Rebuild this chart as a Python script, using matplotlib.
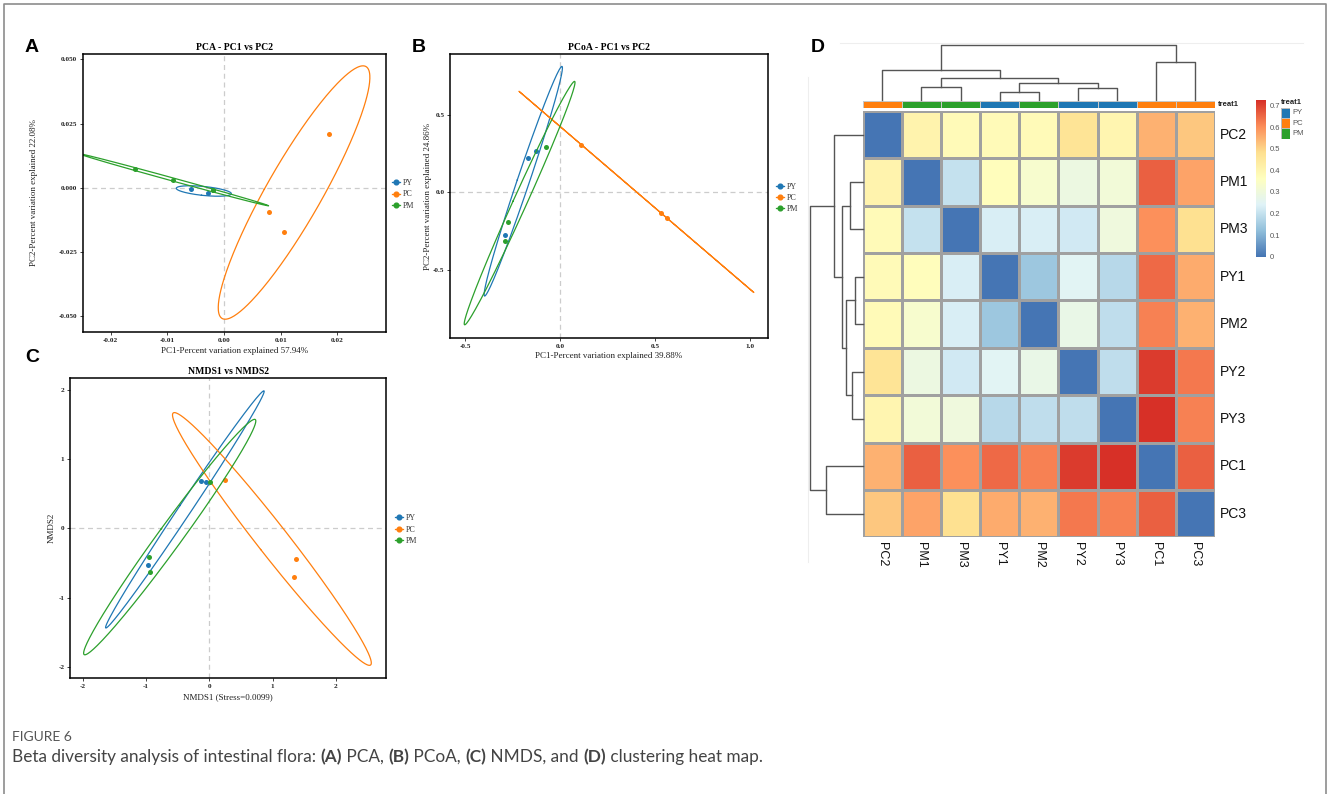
import numpy as np
import matplotlib
matplotlib.use('Agg')
import matplotlib.pyplot as plt
from matplotlib.lines import Line2D
from matplotlib.colors import LinearSegmentedColormap, Normalize
from matplotlib.ticker import FormatStrFormatter

plt.rcParams['axes.unicode_minus'] = False

# ---- data ----
groups = ['PY', 'PC', 'PM']
group_colors = {'PY': '#1f77b4', 'PC': '#ff7f0e', 'PM': '#2ca02c'}

# (A) PCA
pca_pc1 = {'PY': [-0.0058, -0.0029, -0.0020],
           'PC': [0.0185, 0.0080, 0.0106],
           'PM': [-0.0157, -0.0090, -0.0020]}
pca_pc2 = {'PY': [-0.0006, -0.0022, -0.0010],
           'PC': [0.0210, -0.0095, -0.0171],
           'PM': [0.0074, 0.0029, -0.0009]}

# (B) PCoA
pcoa_pc1 = {'PY': [-0.167, -0.127, -0.289],
            'PC': [0.111, 0.532, 0.565],
            'PM': [-0.076, -0.276, -0.289]}
pcoa_pc2 = {'PY': [0.224, 0.269, -0.277],
            'PC': [0.309, -0.133, -0.167],
            'PM': [0.295, -0.191, -0.312]}

# (C) NMDS
nmds1 = {'PY': [-0.131, -0.052, -0.975],
         'PC': [0.248, 1.372, 1.345],
         'PM': [0.016, -0.949, -0.943]}
nmds2 = {'PY': [0.688, 0.664, -0.534],
         'PC': [0.693, -0.447, -0.707],
         'PM': [0.664, -0.408, -0.635]}

# (D) distance heat map, samples in clustered order
samples = ['PC2', 'PM1', 'PM3', 'PY1', 'PM2', 'PY2', 'PY3', 'PC1', 'PC3']
sample_group = ['PC', 'PM', 'PM', 'PY', 'PM', 'PY', 'PY', 'PC', 'PC']
dist = [
    [0.00, 0.41, 0.38, 0.38, 0.38, 0.47, 0.40, 0.55, 0.52],
    [0.41, 0.00, 0.20, 0.37, 0.33, 0.29, 0.31, 0.66, 0.57],
    [0.38, 0.20, 0.00, 0.23, 0.23, 0.22, 0.30, 0.60, 0.48],
    [0.38, 0.37, 0.23, 0.00, 0.14, 0.25, 0.18, 0.65, 0.56],
    [0.38, 0.33, 0.23, 0.14, 0.00, 0.28, 0.19, 0.62, 0.55],
    [0.47, 0.29, 0.22, 0.25, 0.28, 0.00, 0.19, 0.71, 0.63],
    [0.40, 0.31, 0.30, 0.18, 0.19, 0.19, 0.00, 0.725, 0.62],
    [0.55, 0.66, 0.60, 0.65, 0.62, 0.71, 0.725, 0.00, 0.66],
    [0.52, 0.57, 0.48, 0.56, 0.55, 0.63, 0.62, 0.66, 0.00],
]
# dendrogram merges: (left, right, height); ints refer to earlier merges
merges = [
    ('PM1', 'PM3', 0.24),
    ('PY1', 'PM2', 0.15),
    ('PY2', 'PY3', 0.21),
    (1, 2, 0.31),
    (0, 3, 0.395),
    ('PC2', 4, 0.55),
    ('PC1', 'PC3', 0.69),
    (5, 6, 1.0),
]
cb_ticks = [0, 0.1, 0.2, 0.3, 0.4, 0.5, 0.6, 0.7]

W, H = 1328, 794
fig = plt.figure(figsize=(W / 100, H / 100), dpi=100)
SERIF = 'Liberation Serif'
SANS = 'Liberation Sans'


def px_axes(l, t, r, b):
    return fig.add_axes([l / W, 1 - b / H, (r - l) / W, (b - t) / H])


def px_text(x, y, s, **kw):
    return fig.text(x / W, 1 - y / H, s, **kw)


def conf_ellipse(xs, ys, level=0.95, n=300):
    pts = np.column_stack([xs, ys])
    mu = pts.mean(axis=0)
    vals, vecs = np.linalg.eigh(np.cov(pts.T))
    vals = np.clip(vals, 0, None)
    r = np.sqrt(-2 * np.log(1 - level))
    t = np.linspace(0, 2 * np.pi, n)
    e = (vecs * np.sqrt(vals)) @ np.vstack([np.cos(t), np.sin(t)]) * r
    return mu[0] + e[0], mu[1] + e[1]


def ord_panel(box, xs, ys, xlim, ylim, xticks, yticks, xfmt, yfmt,
              title, xlabel, ylabel, ylab_x, xlab_y, leg_xy):
    ax = px_axes(*box)
    ax.axhline(0, color='#cccccc', ls=(0, (4, 3)), lw=0.9, zorder=0)
    ax.axvline(0, color='#cccccc', ls=(0, (4, 3)), lw=0.9, zorder=0)
    for g in groups:
        ex, ey = conf_ellipse(xs[g], ys[g])
        ax.plot(ex, ey, color=group_colors[g], lw=0.9)
        ax.plot(xs[g], ys[g], 'o', color=group_colors[g], ms=3.6, mec='none')
    ax.set_xlim(*xlim)
    ax.set_ylim(*ylim)
    ax.set_xticks(xticks)
    ax.set_yticks(yticks)
    ax.xaxis.set_major_formatter(FormatStrFormatter(xfmt))
    ax.yaxis.set_major_formatter(FormatStrFormatter(yfmt))
    ax.tick_params(length=2.5, width=0.6, pad=1.5, labelsize=5.2, colors='#222222')
    for lbl in ax.get_xticklabels() + ax.get_yticklabels():
        lbl.set_fontweight('bold')
        lbl.set_family(SERIF)
    for sp in ax.spines.values():
        sp.set_linewidth(1.1)
    ax.set_title(title, fontsize=7, fontweight='bold', family=SERIF, pad=3)
    ax.set_xlabel(xlabel, fontsize=6.5, family=SERIF, color='#222222')
    ax.set_ylabel(ylabel, fontsize=6.5, family=SERIF, color='#222222')
    ax.xaxis.set_label_coords(0.5, xlab_y)
    ax.yaxis.set_label_coords(ylab_x, 0.5)
    handles = [Line2D([0], [0], color=group_colors[g], marker='o', ms=3.4, lw=0.9)
               for g in groups]
    fig.legend(handles, groups, loc='center left',
               bbox_to_anchor=(leg_xy[0] / W, 1 - leg_xy[1] / H),
               frameon=False, handlelength=1.0, handletextpad=0.4,
               labelspacing=0.4, borderpad=0, borderaxespad=0,
               prop={'family': SERIF, 'size': 5.8}, labelcolor='#333333')
    return ax


ord_panel((83, 54, 386, 332), pca_pc1, pca_pc2,
          (-0.0249, 0.0286), (-0.0562, 0.0521),
          [-0.02, -0.01, 0.0, 0.01, 0.02], [-0.05, -0.025, 0.0, 0.025, 0.05],
          '%.2f', '%.3f', 'PCA - PC1 vs PC2',
          'PC1-Percent variation explained 57.94%',
          'PC2-Percent variation explained 22.08%', -0.148, -0.054, (392, 194.5))

ord_panel((450, 54, 768, 338), pcoa_pc1, pcoa_pc2,
          (-0.581, 1.097), (-0.941, 0.894),
          [-0.5, 0.0, 0.5, 1.0], [-0.5, 0.0, 0.5],
          '%.1f', '%.1f', 'PCoA - PC1 vs PC2',
          'PC1-Percent variation explained 39.88%',
          'PC2-Percent variation explained 24.86%', -0.058, -0.05, (776, 198))

ord_panel((70, 378, 386, 678), nmds1, nmds2,
          (-2.2, 2.79), (-2.159, 2.168),
          [-2, -1, 0, 1, 2], [-2, -1, 0, 1, 2],
          '%d', '%d', 'NMDS1 vs NMDS2',
          'NMDS1 (Stress=0.0099)', 'NMDS2', -0.045, -0.052, (395, 529.5))

for letter, (x, y) in zip('ABCD', [(31.5, 48), (418.5, 48), (32, 357), (818, 48)]):
    px_text(x, y, letter, fontsize=14, fontweight='bold', family=SANS,
            ha='center', va='center')

# ---- (D) heat map ----
hm_l, hm_t, hm_r, hm_b = 862.7, 111, 1215, 537.3
mat = np.array(dist)
vmax = mat.max()
cmap = LinearSegmentedColormap.from_list(
    'pheat', ['#4575B4', '#91BFDB', '#E0F3F8', '#FFFFBF', '#FEE090', '#FC8D59', '#D73027'])
norm = Normalize(0, vmax)

ax_hm = px_axes(hm_l, hm_t, hm_r, hm_b)
ax_hm.pcolormesh(mat, cmap=cmap, norm=norm, edgecolors='#a0a0a0', linewidth=0.8)
ax_hm.set_xlim(0, len(samples))
ax_hm.set_ylim(len(samples), 0)
ax_hm.axis('off')
for i, s in enumerate(samples):
    ax_hm.text(len(samples) + 0.12, i + 0.5, s, fontsize=10, family=SANS,
               ha='left', va='center', color='#111111')
    ax_hm.text(i + 0.5, len(samples) + 0.1, s, fontsize=9, family=SANS,
               ha='center', va='top', rotation=270, color='#111111')

# annotation bar
ax_an = px_axes(hm_l, 101, hm_r, 108)
grp_idx = np.array([[groups.index(g) for g in sample_group]])
ann_cmap = LinearSegmentedColormap.from_list('ann', [group_colors[g] for g in groups], N=3)
ax_an.pcolormesh(grp_idx, cmap=ann_cmap, vmin=-0.5, vmax=2.5, edgecolors='#c8c8c8', linewidth=0.5)
ax_an.set_xlim(0, len(samples))
ax_an.axis('off')
px_text(1218, 104.5, 'treat1', fontsize=5.5, fontweight='bold', family=SANS,
        ha='left', va='center', color='#222222')


# dendrograms
def tree_layout():
    pos = {s: i for i, s in enumerate(samples)}
    segs = []
    node_pos, node_h = {}, {}
    for k, (a, b, h) in enumerate(merges):
        pa = node_pos[a] if isinstance(a, int) else pos[a]
        pb = node_pos[b] if isinstance(b, int) else pos[b]
        ha = node_h[a] if isinstance(a, int) else 0.0
        hb = node_h[b] if isinstance(b, int) else 0.0
        segs.append(([pa, pa, pb, pb], [ha, h, h, hb]))
        node_pos[k] = (pa + pb) / 2
        node_h[k] = h
    return segs, max(node_h.values())


segs, hmax = tree_layout()
ax_cd = px_axes(hm_l, 45, hm_r, 100)
ax_rd = px_axes(810, hm_t, hm_l, hm_b)
for p, h in segs:
    ax_cd.plot(np.array(p) + 0.5, h, color='#555555', lw=1.0, clip_on=False)
    ax_rd.plot(h, np.array(p) + 0.5, color='#555555', lw=1.0, clip_on=False)
ax_cd.set_xlim(0, len(samples))
ax_cd.set_ylim(0, hmax)
ax_cd.axis('off')
ax_rd.set_ylim(len(samples), 0)
ax_rd.set_xlim(hmax, 0)
ax_rd.axis('off')

# colour key
ax_cb = px_axes(1256, 100, 1265.7, 256.7)
grad = np.linspace(0, vmax, 256).reshape(-1, 1)
ax_cb.imshow(grad, cmap=cmap, norm=norm, aspect='auto', origin='lower',
             extent=[0, 1, 0, vmax])
ax_cb.set_xticks([])
ax_cb.yaxis.tick_right()
ax_cb.set_yticks(cb_ticks)
ax_cb.set_yticklabels(['%g' % t for t in cb_ticks])
ax_cb.tick_params(length=0, pad=3, labelsize=5.5, labelcolor='#555555')
for lbl in ax_cb.get_yticklabels():
    lbl.set_family(SANS)
for sp in ax_cb.spines.values():
    sp.set_visible(False)

# group legend
px_text(1281, 103, 'treat1', fontsize=5.5, fontweight='bold', family=SANS,
        ha='left', va='center', color='#222222')
ax_lg = px_axes(1281, 107.7, 1290, 138.7)
ax_lg.pcolormesh(np.arange(3).reshape(-1, 1), cmap=ann_cmap, vmin=-0.5, vmax=2.5,
                 edgecolors='#bbbbbb', linewidth=0.4)
ax_lg.set_ylim(3, 0)
ax_lg.axis('off')
for i, g in enumerate(groups):
    ax_lg.text(1.3, i + 0.5, g, fontsize=5.5, family=SANS, ha='left',
               va='center', color='#555555')

# faint frame of the embedded heat-map image
fig.add_artist(Line2D([840 / W, 1303 / W], [1 - 43 / H, 1 - 43 / H], color='#eeeeee', lw=0.8))
fig.add_artist(Line2D([808 / W, 808 / W], [1 - 77 / H, 1 - 562 / H], color='#eeeeee', lw=0.8))

# outer border
fig.add_artist(Line2D([4 / W, 4 / W, 1326 / W, 1326 / W],
                      [0, 1 - 4 / H, 1 - 4 / H, 0], color='#8c8c8c', lw=1.2))

# caption
px_text(12, 737, 'FIGURE 6', fontsize=10, family='Lato', color='#555555',
        ha='left', va='center')
parts = [('Beta diversity analysis of intestinal flora: ', 'normal'), ('(A)', 'bold'),
         (' PCA, ', 'normal'), ('(B)', 'bold'), (' PCoA, ', 'normal'), ('(C)', 'bold'),
         (' NMDS, and ', 'normal'), ('(D)', 'bold'), (' clustering heat map.', 'normal')]
renderer = fig.canvas.get_renderer()
x = 12
for s, w in parts:
    t = px_text(x, 757, s, fontsize=12.4, family='Lato', fontweight=w,
                color='#444444', ha='left', va='center')
    x += t.get_window_extent(renderer).width

fig.savefig('out.png', dpi=100)
